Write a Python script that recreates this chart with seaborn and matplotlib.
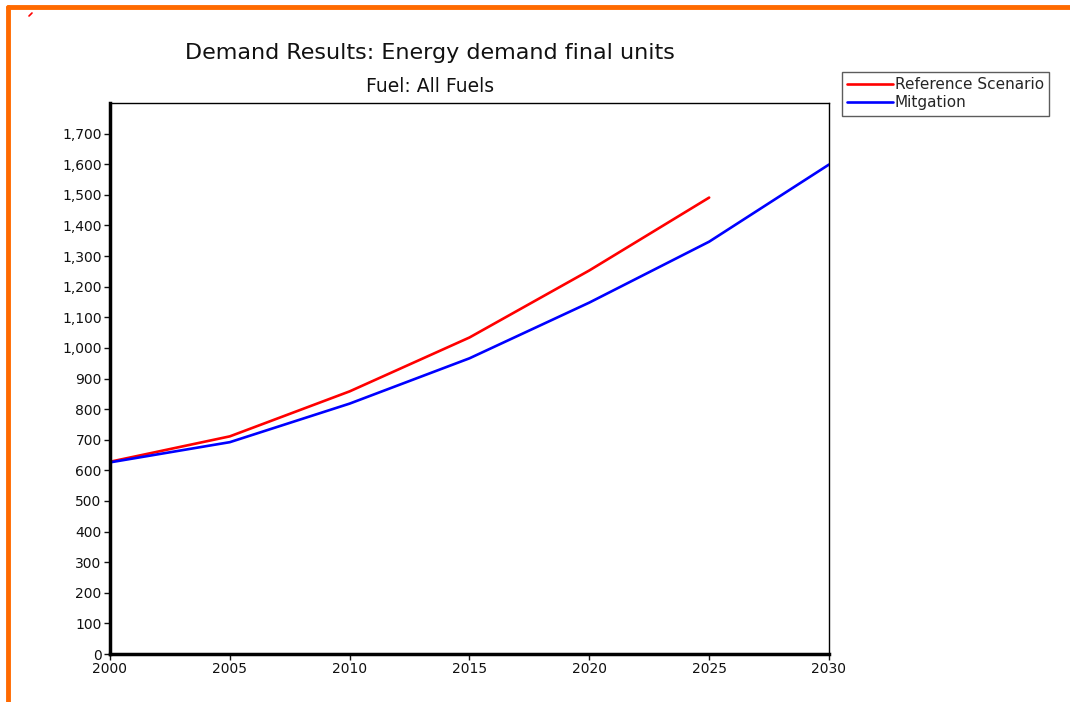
import numpy as np
import pandas as pd
import matplotlib
matplotlib.use('Agg')
import matplotlib.pyplot as plt
from matplotlib.lines import Line2D
from matplotlib.ticker import FuncFormatter, MultipleLocator
import seaborn as sns

sns.set_theme(style="white")
plt.rcParams['font.family'] = ['DejaVu Sans']

# ---- data ----
years_ref = [2000, 2005, 2010, 2015, 2020, 2025]
reference = [628, 711, 858, 1034, 1253, 1491]
years_mit = [2000, 2005, 2010, 2015, 2020, 2025, 2030]
mitigation = [626, 692, 818, 966, 1148, 1347, 1599]
series_names = ["Reference Scenario", "Mitgation"]
series_colors = ["#ff0000", "#0000ff"]

df = pd.concat([
    pd.DataFrame({'year': years_ref, 'value': reference, 'scenario': series_names[0]}),
    pd.DataFrame({'year': years_mit, 'value': mitigation, 'scenario': series_names[1]}),
])

fig = plt.figure(figsize=(10.7, 7.02), dpi=100)
ax = fig.add_axes([110 / 1070, 1 - 654 / 702, (829 - 110) / 1070, (654 - 103) / 702])

sns.lineplot(data=df, x='year', y='value', hue='scenario', hue_order=series_names,
             palette=series_colors, linewidth=1.9, ax=ax, legend=False)

ax.set_xlim(2000, 2030)
ax.set_ylim(0, 1800)
ax.set_xticks(range(2000, 2031, 5))
ax.set_yticks(range(0, 1701, 100))
ax.yaxis.set_minor_locator(MultipleLocator(20))
ax.yaxis.set_major_formatter(FuncFormatter(lambda v, p: f"{int(v):,}"))
ax.set_xlabel("")
ax.set_ylabel("")
ax.tick_params(axis='both', which='major', labelsize=10, colors='#111111',
               length=4, width=1, direction='out', left=True, bottom=True, pad=2)
ax.tick_params(axis='y', which='minor', length=2, width=0.8, color='#888888',
               direction='inout', left=True)

for side in ['top', 'right']:
    ax.spines[side].set_linewidth(1.0)
    ax.spines[side].set_color('black')
for side in ['left', 'bottom']:
    ax.spines[side].set_linewidth(2.5)
    ax.spines[side].set_color('black')

fig.text(430 / 1070, 1 - 53 / 702, "Demand Results: Energy demand final units",
         ha='center', va='center', fontsize=16, color='#111111')
fig.text(430 / 1070, 1 - 87 / 702, "Fuel: All Fuels",
         ha='center', va='center', fontsize=13.5, color='#111111')

handles = [Line2D([0], [0], color=c, lw=1.9) for c in series_colors]
leg = fig.legend(handles, series_names, loc='upper left',
                 bbox_to_anchor=(842 / 1070, 1 - 72 / 702), frameon=True, fancybox=False,
                 fontsize=11, handlelength=3.0, handletextpad=0.1, borderpad=0.35,
                 labelspacing=0.2, borderaxespad=0)
leg.get_frame().set_edgecolor('#333333')
leg.get_frame().set_linewidth(1.0)

# orange frame of the original screenshot
fig.add_artist(Line2D([8 / 1070, 8 / 1070], [0, 1 - 7 / 702], color='#ff6a00', lw=3.5,
                      transform=fig.transFigure))
fig.add_artist(Line2D([8 / 1070, 1], [1 - 7 / 702, 1 - 7 / 702], color='#ff6a00', lw=3.5,
                      transform=fig.transFigure))
fig.add_artist(Line2D([29 / 1070, 32 / 1070], [1 - 16 / 702, 1 - 13 / 702], color='red', lw=1.2,
                      transform=fig.transFigure))

fig.savefig("out.png", dpi=100, facecolor='white')
